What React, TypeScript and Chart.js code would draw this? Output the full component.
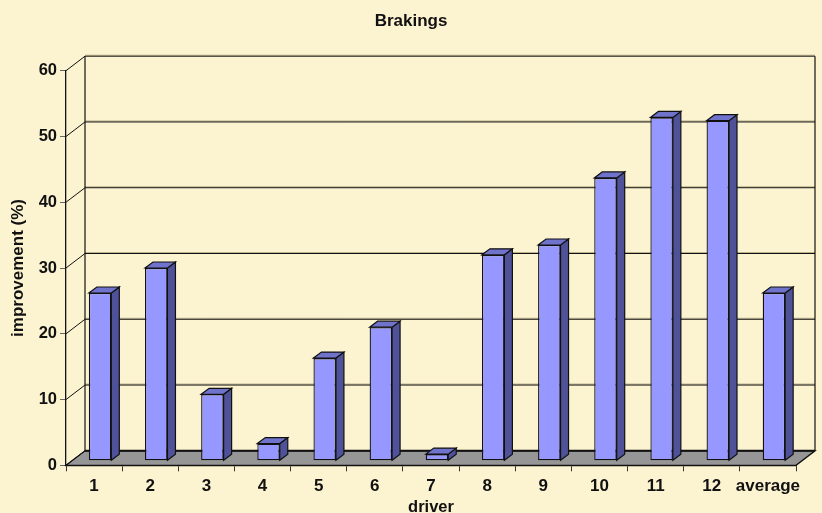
import React, { useEffect, useRef } from "react";
import { Chart, registerables } from "chart.js";

Chart.register(...registerables);

const categories = ["1", "2", "3", "4", "5", "6", "7", "8", "9", "10", "11", "12", "average"];
const improvement = [25.5, 29.3, 10.1, 2.6, 15.6, 20.3, 1.0, 31.3, 32.8, 43.0, 52.2, 51.7, 25.5];
const yTicks = [0, 10, 20, 30, 40, 50, 60];

const BG = "#FCF3D0";
const FONT = "'Liberation Sans', Arial, sans-serif";
const DEPTH_X = 19;
const DEPTH_Y = 14.5;
const BAR_SHIFT_X = 6;
const BAR_SHIFT_Y = 4.6;
const BAR_DEPTH_X = 8;
const BAR_DEPTH_Y = 6;

const line = (ctx: CanvasRenderingContext2D, x1: number, y1: number, x2: number, y2: number) => {
  ctx.beginPath();
  ctx.moveTo(x1, y1);
  ctx.lineTo(x2, y2);
  ctx.stroke();
};

const poly = (ctx: CanvasRenderingContext2D, pts: number[][], fill: string) => {
  ctx.beginPath();
  pts.forEach((p, i) => (i ? ctx.lineTo(p[0], p[1]) : ctx.moveTo(p[0], p[1])));
  ctx.closePath();
  ctx.fillStyle = fill;
  ctx.fill();
  ctx.stroke();
};

const box3d = {
  id: "box3d",
  afterLayout(chart: any) {
    // the title is centred on the whole canvas, not on the plot
    if (chart.titleBlock) {
      chart.titleBlock.left = 0;
      chart.titleBlock.right = chart.width;
    }
  },
  beforeDatasetsDraw(chart: any) {
    const { ctx, chartArea: a, scales } = chart;
    const y0 = scales.y.getPixelForValue(0);
    ctx.save();
    // floor
    ctx.strokeStyle = "#111";
    ctx.lineWidth = 1.3;
    poly(
      ctx,
      [
        [a.left, y0],
        [a.right, y0],
        [a.right + DEPTH_X, y0 - DEPTH_Y],
        [a.left + DEPTH_X, y0 - DEPTH_Y],
      ],
      "#969696"
    );
    // back wall grid lines and left wall diagonals
    yTicks.forEach((t) => {
      const y = scales.y.getPixelForValue(t);
      if (t > 0) {
        ctx.strokeStyle = "rgba(110,100,60,0.45)";
        ctx.lineWidth = 1;
        line(ctx, a.left + DEPTH_X, y - DEPTH_Y - 1, a.right + DEPTH_X, y - DEPTH_Y - 1);
        ctx.strokeStyle = "#111";
        line(ctx, a.left + DEPTH_X, y - DEPTH_Y, a.right + DEPTH_X, y - DEPTH_Y);
      }
      ctx.strokeStyle = "#111";
      ctx.lineWidth = 1;
      line(ctx, a.left, y, a.left + DEPTH_X, y - DEPTH_Y);
    });
    ctx.lineWidth = 1.2;
    const top = scales.y.getPixelForValue(60) - DEPTH_Y;
    line(ctx, a.left + DEPTH_X, top, a.left + DEPTH_X, y0 - DEPTH_Y);
    line(ctx, a.right + DEPTH_X, top, a.right + DEPTH_X, y0 - DEPTH_Y);
    ctx.lineWidth = 2;
    line(ctx, a.left + DEPTH_X, y0 - DEPTH_Y, a.right + DEPTH_X, y0 - DEPTH_Y);
    ctx.restore();

    // shift the bars to the middle of the depth and draw their side and top faces
    ctx.save();
    ctx.translate(BAR_SHIFT_X, -BAR_SHIFT_Y);
    ctx.strokeStyle = "#111";
    ctx.lineWidth = 1.2;
    chart.getDatasetMeta(0).data.forEach((bar: any) => {
      const l = bar.x - bar.width / 2;
      const r = bar.x + bar.width / 2;
      poly(
        ctx,
        [
          [r, bar.y],
          [r + BAR_DEPTH_X, bar.y - BAR_DEPTH_Y],
          [r + BAR_DEPTH_X, bar.base - BAR_DEPTH_Y],
          [r, bar.base],
        ],
        "#4F5299"
      );
      poly(
        ctx,
        [
          [l, bar.y],
          [l + BAR_DEPTH_X, bar.y - BAR_DEPTH_Y],
          [r + BAR_DEPTH_X, bar.y - BAR_DEPTH_Y],
          [r, bar.y],
        ],
        "#7073CC"
      );
    });
  },
  afterDatasetsDraw(chart: any) {
    chart.ctx.restore();
  },
};

export default function App() {
  const ref = useRef<HTMLCanvasElement>(null);
  useEffect(() => {
    document.body.style.margin = "0";
    document.body.style.background = BG;
    const chart = new Chart(ref.current as HTMLCanvasElement, {
      type: "bar",
      data: {
        labels: categories,
        datasets: [
          {
            label: "improvement (%)",
            data: improvement,
            backgroundColor: "#9698FF",
            borderColor: "#111",
            borderWidth: 1.3,
            borderSkipped: false,
            categoryPercentage: 0.4,
            barPercentage: 1,
            clip: false,
          } as any,
        ],
      },
      options: {
        responsive: false,
        animation: false,
        layout: { padding: { top: 0, right: 26, bottom: 0, left: 0 } },
        plugins: {
          legend: { display: false },
          tooltip: { enabled: false },
          title: {
            display: true,
            text: "Brakings",
            color: "#111",
            font: { family: FONT, size: 17, weight: "bold" },
            padding: { top: 11, bottom: 39.3 },
          },
        },
        scales: {
          x: {
            afterFit(s: any) {
              s.height = 47.7;
            },
            border: { color: "#111", width: 1.3 },
            grid: { drawOnChartArea: false, drawTicks: true, tickLength: 6, color: "#333" },
            ticks: {
              color: "#111",
              padding: 5,
              maxRotation: 0,
              autoSkip: false,
              font: { family: FONT, size: 17, weight: "bold" },
            },
            title: {
              display: true,
              text: "driver",
              color: "#111",
              font: { family: FONT, size: 16.5, weight: "bold" },
              padding: { top: 0, bottom: -4 },
            },
          },
          y: {
            min: 0,
            max: 60,
            afterFit(s: any) {
              s.width = 66;
            },
            border: { color: "#111", width: 1.3 },
            grid: { drawOnChartArea: false, drawTicks: true, tickLength: 6, color: "#666" },
            ticks: {
              stepSize: 10,
              color: "#111",
              padding: 3,
              font: { family: FONT, size: 16.5, weight: "bold" },
            },
            title: {
              display: true,
              text: "improvement (%)",
              color: "#111",
              font: { family: FONT, size: 17, weight: "bold" },
              padding: { top: 8, bottom: 0 },
            },
          },
        },
      } as any,
      plugins: [box3d as any],
    });
    return () => chart.destroy();
  }, []);
  return (
    <canvas
      ref={ref}
      width={822}
      height={513}
      style={{ display: "block", width: 822, height: 513, background: BG }}
    />
  );
}
